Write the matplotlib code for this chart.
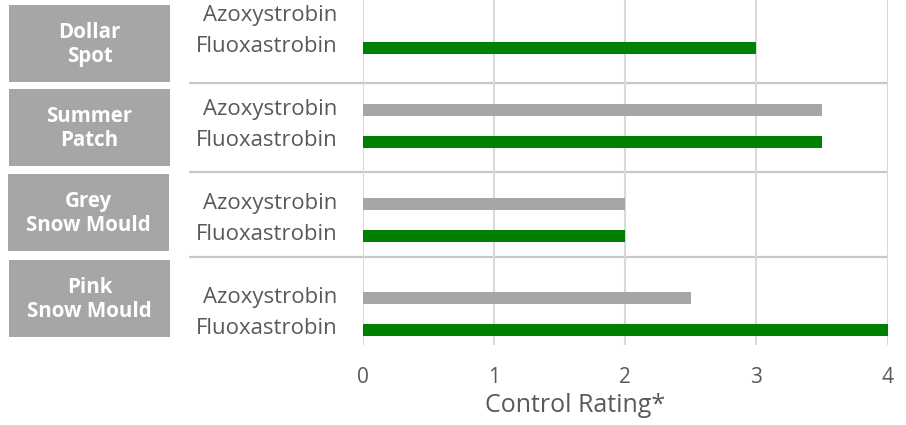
import matplotlib
matplotlib.use("Agg")
import matplotlib.pyplot as plt
from matplotlib.patches import Rectangle

# ---- data ----
diseases = ["Dollar\nSpot", "Summer\nPatch", "Grey\nSnow Mould", "Pink\nSnow Mould"]
products = ["Azoxystrobin", "Fluoxastrobin"]
azoxystrobin = [0, 3.5, 2, 2.5]
fluoxastrobin = [3, 3.5, 2, 4]
x_ticks = [0, 1, 2, 3, 4]
x_label = "Control Rating*"

# ---- style ----
GREEN = "#008000"
GREY = "#a6a6a6"
TXT = "#595959"
GRID = "#d9d9d9"
SEP = "#c8c8c8"
FONT = ["Open Sans", "DejaVu Sans"]
plt.rcParams["font.family"] = FONT

W, H = 906, 425
fig = plt.figure(figsize=(W / 100, H / 100), dpi=100)

# background overlay axes in pixel coordinates
bg = fig.add_axes([0, 0, 1, 1])
bg.set_xlim(0, W)
bg.set_ylim(H, 0)
bg.axis("off")

# disease boxes (layout)
boxes = [(9, 5, 161, 77), (9, 89, 161, 77), (8, 174, 161, 77), (9, 260, 161, 77)]
for (bx, by, bw, bh), name in zip(boxes, diseases):
    bg.add_patch(Rectangle((bx, by), bw, bh, facecolor=GREY, edgecolor="none"))
    bg.text(bx + bw / 2, by + bh / 2 + 1, name, color="white", fontsize=14.8,
            fontweight="bold", ha="center", va="center", linespacing=1.2)

# group separators (layout)
for sy in [83, 172, 257]:
    bg.plot([189, 887], [sy, sy], color=SEP, lw=1.6, solid_capstyle="butt")

# main axes
x0, x1 = 362.5, 887.7
ax = fig.add_axes([x0 / W, (H - 345) / H, (x1 - x0) / W, 345 / H])
ax.patch.set_alpha(0)

n = len(diseases)
off = 0.167
h = 0.125
ypos_a = [i - off for i in range(n)]
ypos_f = [i + off for i in range(n)]
ax.barh(ypos_a, azoxystrobin, height=h, color=GREY, zorder=3)
ax.barh(ypos_f, fluoxastrobin, height=h, color=GREEN, zorder=3)

ax.set_xlim(x_ticks[0], x_ticks[-1])
ax.set_ylim(3.33, -0.34)
ax.set_xticks(x_ticks)
ax.set_xticklabels([str(t) for t in x_ticks])
ax.xaxis.grid(True, color=GRID, lw=1.5, zorder=0)
ax.set_axisbelow(True)

yt = []
yl = []
for i in range(n):
    yt += [ypos_a[i] - 0.035, ypos_f[i] - 0.035]
    yl += products
ax.set_yticks(yt)
ax.set_yticklabels(yl)
ax.tick_params(axis="y", length=0, pad=18, labelsize=15.9, labelcolor=TXT)
ax.tick_params(axis="x", length=0, pad=16, labelsize=15, labelcolor=TXT)
for s in ax.spines.values():
    s.set_visible(False)

ax.set_xlabel(x_label, fontsize=18, color=TXT)
ax.xaxis.set_label_coords((575 - x0) / (x1 - x0), -(406 - 345) / 345)
ax.xaxis.label.set_va("center")

fig.savefig("out.png", dpi=100)
